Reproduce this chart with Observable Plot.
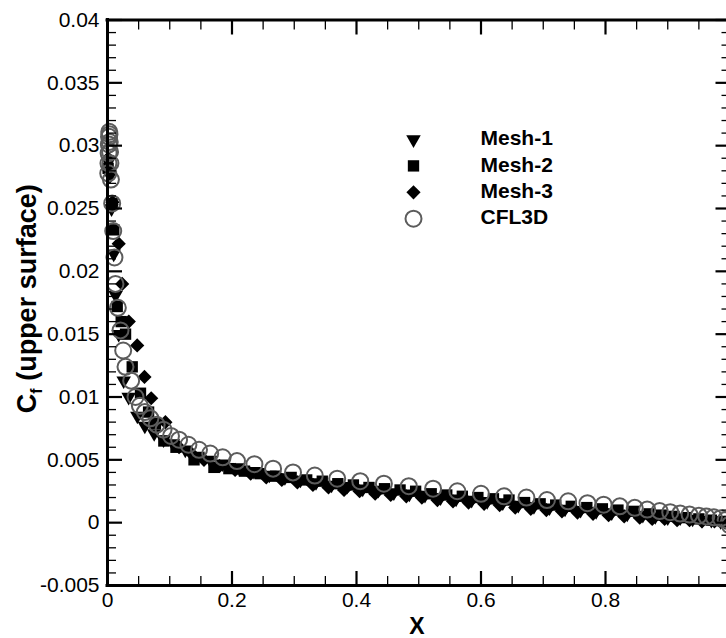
<!DOCTYPE html>
<html><head><meta charset="utf-8">
<script src="https://cdn.jsdelivr.net/npm/d3@7"></script>
<script src="https://cdn.jsdelivr.net/npm/@observablehq/plot@0.6"></script>
<style>html,body{margin:0;padding:0;background:#fff;overflow:hidden;}</style>
</head><body><div id="chart"></div>
<script>
// CFL3D reference (open circles)
const cflX = [0.0012,0.0015,0.0018,0.0021,0.0024,0.0028,0.0032,0.0036,0.0041,0.0047,0.0055,0.0075,0.0092,0.0112,0.0128,0.0166,0.0209,0.0252,0.0289,0.0380,0.0450,0.0520,0.0600,0.0690,0.0790,0.0900,0.1020,0.1150,0.1300,0.1470,0.1650,0.1850,0.2080,0.2360,0.2660,0.2980,0.3330,0.3690,0.4060,0.4440,0.4840,0.5230,0.5620,0.6000,0.6370,0.6730,0.7060,0.7400,0.7710,0.7970,0.8230,0.8470,0.8670,0.8870,0.9040,0.9200,0.9350,0.9500,0.9620,0.9740,0.9850,0.9930,0.9990];
const cflY = [0.0278,0.0286,0.0294,0.0301,0.0307,0.0311,0.0309,0.0303,0.0295,0.0286,0.0273,0.0254,0.0232,0.0211,0.0190,0.0171,0.0153,0.0137,0.0124,0.0113,0.0100,0.0093,0.0088,0.0083,0.0078,0.0074,0.0069,0.0066,0.0062,0.0058,0.0055,0.0052,0.0049,0.00465,0.0043,0.0040,0.00375,0.0035,0.0033,0.0031,0.0029,0.0027,0.0025,0.0023,0.0021,0.0020,0.0018,0.0017,0.00155,0.00143,0.0013,0.00118,0.00104,0.00092,0.00083,0.00072,0.00064,0.00056,0.00049,0.00043,0.00036,0.00022,-0.00018];
// Mesh-1 (down triangles)
const m1X = [0.0015,0.0040,0.0065,0.0100,0.0130,0.0180,0.0260,0.0340,0.0480,0.0600,0.0750,0.0900,0.1050,0.1250,0.1450,0.1650,0.1850,0.2100,0.2350,0.2600,0.2850,0.3100,0.3350,0.3600,0.3850,0.4100,0.4350,0.4600,0.4850,0.5100,0.5350,0.5600,0.5850,0.6100,0.6350,0.6600,0.6850,0.7100,0.7350,0.7600,0.7850,0.8100,0.8350,0.8600,0.8800,0.9000,0.9200,0.9400,0.9550,0.9700,0.9850,0.9950];
const m1Y = [0.0287,0.0276,0.0250,0.0214,0.0181,0.0150,0.0113,0.0100,0.0085,0.0077,0.0071,0.0066,0.0063,0.0058,0.0053,0.0050,0.0047,0.0044,0.0041,0.0038,0.0036,0.0034,0.0032,0.0030,0.0029,0.0027,0.0026,0.0024,0.0023,0.0022,0.0020,0.0019,0.0018,0.0017,0.0016,0.0014,0.0013,0.0012,0.0011,0.0010,0.0009,0.0008,0.0007,0.0006,0.0005,0.0004,0.0004,0.0003,0.0002,0.0002,0.0001,0.0000];
// Mesh-2 (squares)
const m2X = [0.0010,0.0075,0.0101,0.0156,0.0220,0.0290,0.0397,0.0530,0.0660,0.0770,0.0905,0.1100,0.1390,0.1710,0.1950,0.2200,0.2450,0.2700,0.2950,0.3200,0.3450,0.3700,0.3950,0.4200,0.4450,0.4700,0.4950,0.5200,0.5450,0.5700,0.5950,0.6200,0.6450,0.6700,0.6950,0.7200,0.7450,0.7700,0.7950,0.8200,0.8450,0.8700,0.8900,0.9100,0.9300,0.9500,0.9700,0.9900];
const m2Y = [0.0282,0.0254,0.0233,0.0172,0.0160,0.0150,0.0124,0.0103,0.0088,0.0079,0.0065,0.0060,0.0050,0.0044,0.0043,0.0041,0.0039,0.0037,0.0036,0.0034,0.0033,0.0031,0.0030,0.0028,0.0027,0.0026,0.0025,0.0023,0.0022,0.0021,0.0020,0.0019,0.0018,0.0016,0.0015,0.0014,0.0013,0.0012,0.0011,0.0010,0.0009,0.0007,0.0006,0.0005,0.0004,0.0003,0.0002,0.0001];
// Mesh-3 (diamonds)
const m3X = [0.0012,0.0030,0.0080,0.0180,0.0236,0.0342,0.0477,0.0594,0.0702,0.0930,0.1150,0.1350,0.1550,0.1800,0.2050,0.2300,0.2550,0.2800,0.3050,0.3300,0.3550,0.3800,0.4050,0.4300,0.4550,0.4800,0.5050,0.5300,0.5550,0.5800,0.6050,0.6300,0.6550,0.6800,0.7050,0.7300,0.7550,0.7800,0.8050,0.8300,0.8550,0.8750,0.8950,0.9150,0.9350,0.9550,0.9750,0.9920];
const m3Y = [0.0290,0.0280,0.0255,0.0222,0.0190,0.0160,0.0141,0.0116,0.0099,0.0080,0.0060,0.0055,0.0050,0.0045,0.0042,0.0039,0.0036,0.0034,0.0032,0.0030,0.0028,0.0026,0.0025,0.0023,0.0022,0.0021,0.0020,0.0018,0.0017,0.0016,0.0015,0.0014,0.0012,0.0011,0.0010,0.0009,0.0008,0.0007,0.0006,0.0005,0.0004,0.0003,0.0003,0.0002,0.0002,0.0001,0.0001,0.0000];

const legendLabels = ["Mesh-1", "Mesh-2", "Mesh-3", "CFL3D"];
const xTicks = [0, 0.2, 0.4, 0.6, 0.8];
const xTickLabels = ["0", "0.2", "0.4", "0.6", "0.8"];
const yTicks = [-0.005, 0, 0.005, 0.01, 0.015, 0.02, 0.025, 0.03, 0.035, 0.04];
const yTickLabels = ["-0.005", "0", "0.005", "0.01", "0.015", "0.02", "0.025", "0.03", "0.035", "0.04"];
const xTitle = "X";
const yTitle = "Cf (upper surface)";

const pts = (xs, ys) => xs.map((x, i) => ({x, y: ys[i]}));
const cfl = pts(cflX, cflY), mesh1 = pts(m1X, m1Y), mesh2 = pts(m2X, m2Y), mesh3 = pts(m3X, m3Y);

const xMinor = d3.range(0, 1.0001, 0.05).map(v => +v.toFixed(3)).filter(v => !xTicks.includes(v) && v < 1);
const yMinor = d3.range(-0.005, 0.04001, 0.001).map(v => +v.toFixed(4)).filter(v => !yTicks.includes(v));
const xLab = new Map(xTicks.map((v, i) => [v, xTickLabels[i]]));
const yLab = new Map(yTicks.map((v, i) => [v, yTickLabels[i]]));
const blank = () => "";

const styles = [
  {symbol: "triangle", rotate: 180, r: 5.4, fill: "black", stroke: "none"},
  {symbol: "square", r: 6.4, fill: "black", stroke: "none"},
  {symbol: "diamond2", r: 6.4, fill: "black", stroke: "none"},
  {symbol: "circle", r: 8, fill: "none", stroke: "#5c5c5c", strokeWidth: 2}
];

const legendMarks = legendLabels.flatMap((lab, i) => [
  Plot.dot([lab], {frameAnchor: "top-left", dx: 306, dy: 119.5 + i * 26.4, ...styles[i]}),
  Plot.text([lab], {frameAnchor: "top-left", dx: 373, dy: 118.5 + i * 26.4, text: d => d, textAnchor: "start", lineAnchor: "middle", fontWeight: "bold", fontSize: 21})
]);

const major = {stroke: "black", strokeWidth: 2.2, label: null};
const minor = {stroke: "black", strokeWidth: 1.3, label: null, tickFormat: blank};

const plot = Plot.plot({
  width: 726, height: 638,
  marginLeft: 107, marginRight: 0, marginTop: 19.5, marginBottom: 53,
  x: {domain: [0, 1], range: [107, 729.5], axis: null, label: null},
  y: {domain: [-0.005, 0.04], range: [585, 19.5], axis: null, label: null},
  style: {fontFamily: "'Liberation Sans', Arial, Helvetica, sans-serif", fontSize: "21px", color: "black", background: "white", overflow: "hidden"},
  marks: [
    Plot.dot(mesh1, {x: "x", y: "y", ...styles[0]}),
    Plot.dot(mesh2, {x: "x", y: "y", ...styles[1]}),
    Plot.dot(mesh3, {x: "x", y: "y", ...styles[2]}),
    Plot.dot(cfl, {x: "x", y: "y", ...styles[3]}),
    ...legendMarks,
    Plot.axisX(xTicks, {anchor: "bottom", tickSize: -14, tickPadding: 21, tickFormat: d => xLab.get(d), fontSize: 21, ...major}),
    Plot.axisX(xMinor, {anchor: "bottom", tickSize: -9, ...minor}),
    Plot.axisX(xTicks, {anchor: "top", tickSize: -14, ...major, tickFormat: blank}),
    Plot.axisX(xMinor, {anchor: "top", tickSize: -9, ...minor}),
    Plot.axisY(yTicks, {anchor: "left", tickSize: -15, tickPadding: 23, tickFormat: d => yLab.get(d), fontSize: 21, ...major}),
    Plot.axisY(yMinor, {anchor: "left", tickSize: -9, ...minor}),
    Plot.axisY(yTicks, {anchor: "right", tickSize: -15, dx: 3.5, ...major, tickFormat: blank}),
    Plot.axisY(yMinor, {anchor: "right", tickSize: -9, dx: 3.5, ...minor}),
    Plot.ruleX([0, 1], {y1: -0.005, y2: 0.04, stroke: "black", strokeWidth: 3, strokeLinecap: "square"}),
    Plot.ruleY([-0.005, 0.04], {x1: 0, x2: 1, stroke: "black", strokeWidth: 3, strokeLinecap: "square"}),
    Plot.text([xTitle], {frameAnchor: "bottom", dy: 41, text: d => d, textAnchor: "middle", lineAnchor: "middle", fontWeight: "bold", fontSize: 23}),
    Plot.text([yTitle], {frameAnchor: "left", dx: -80, dy: -4, rotate: -90, text: d => d, textAnchor: "middle", lineAnchor: "middle", fontWeight: "bold", fontSize: 27})
  ]
});

d3.select(plot).selectAll("text").filter(function () { return this.textContent === yTitle; }).each(function () {
  const t = d3.select(this);
  t.text(null);
  t.append("tspan").text("C");
  t.append("tspan").attr("font-size", "16").attr("dy", "6").text("f");
  t.append("tspan").attr("dy", "-6").text(" (upper surface)");
});

document.getElementById("chart").appendChild(plot);
</script>
</body></html>
